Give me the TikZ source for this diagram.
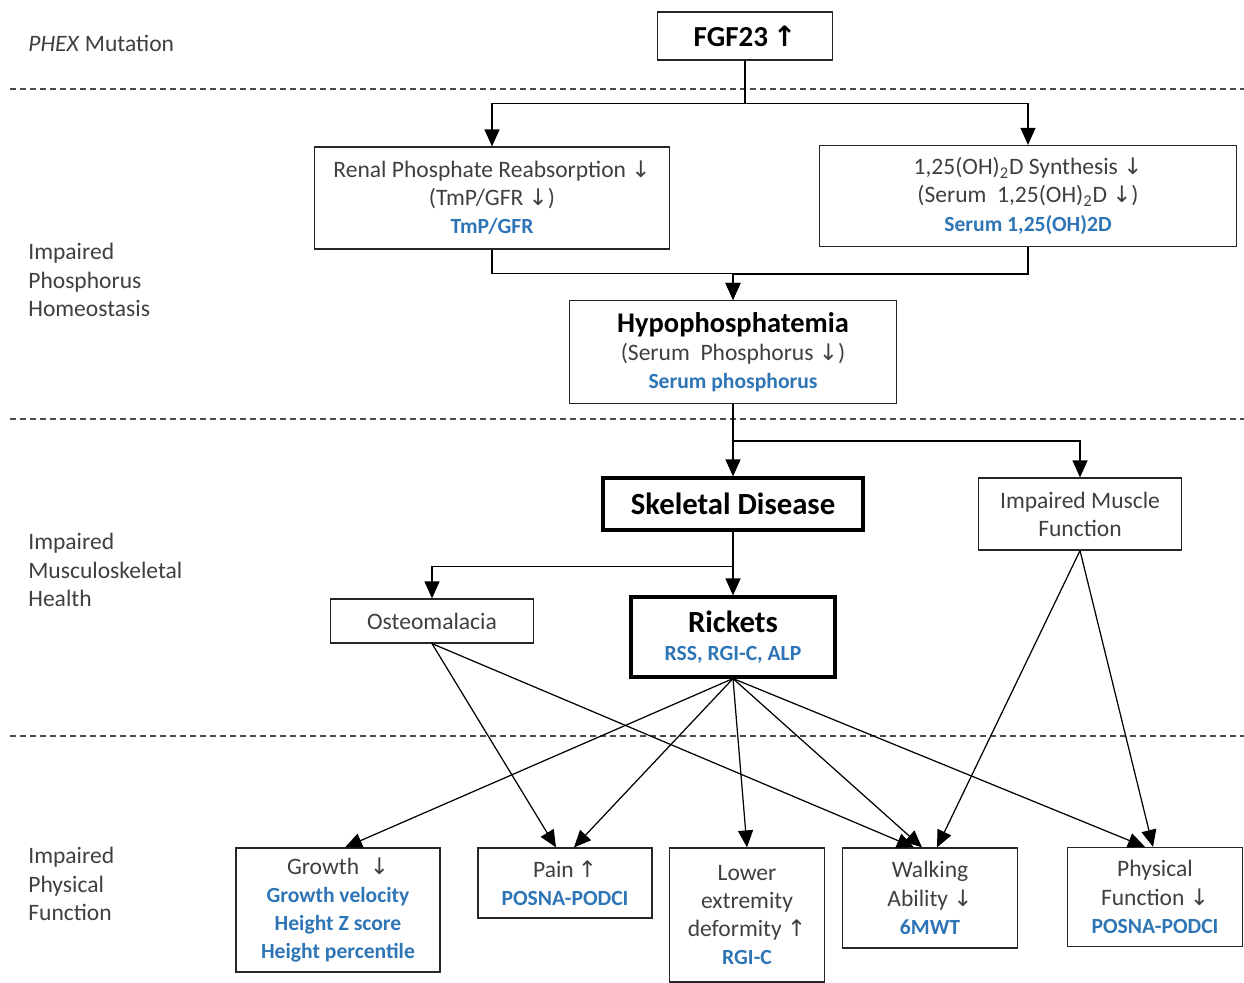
\documentclass[tikz,border=0pt]{standalone}
\usepackage{fontspec}
\setmainfont{Carlito}
\newfontfamily\arrowfont{DejaVu Sans}
\usetikzlibrary{arrows.meta,calc}
\definecolor{measblue}{HTML}{2E75B6}
\definecolor{txtgray}{HTML}{3F3F3F}
\newcommand{\meas}[1]{{\color{measblue}\bfseries\fontsize{12.3}{15}\selectfont #1}}
\newcommand{\ttl}[1]{{\color{black}\bfseries\fontsize{17.5}{20}\selectfont #1}}
\newcommand{\arrdn}{{\arrowfont\mdseries\fontsize{13}{15}\selectfont ↓}}
\newcommand{\arrup}{{\arrowfont\mdseries\fontsize{13}{15}\selectfont ↑}}
\begin{document}
\begin{tikzpicture}[x=0.02cm,y=-0.02cm,
        font=\fontsize{13.4}{16}\selectfont, text=txtgray,
        box/.style={draw=black!85, line width=0.7pt, inner sep=0pt, align=center},
        bigbox/.style={box, draw=black, line width=1.8pt},
        link/.style={draw=black, line width=0.7pt, -{Triangle[length=0.34cm,width=0.3cm]}},
        sep/.style={draw=black!70, line width=0.7pt, dash pattern=on 0.12cm off 0.08cm},
        lbl/.style={anchor=west, align=left, inner sep=0pt}]
        \useasboundingbox (0,0) rectangle (1244,983);

        % level separators
        \draw [sep] (10,89) -- (1244,89);
        \draw [sep] (10,419) -- (1244,419);
        \draw [sep] (10,736) -- (1244,736);

        % left column
        \node [lbl] (phex) at (28,43) {\textit{PHEX} Mutation};
        \node [lbl] (phos) at (28,280) {Impaired\\ Phosphorus\\ Homeostasis};
        \node [lbl] (musc) at (28,570) {Impaired\\ Musculoskeletal\\ Health};
        \node [lbl] (func) at (28,884) {Impaired\\ Physical\\ Function};

        % boxes
        \node [box, minimum width=3.5cm, minimum height=0.96cm] (fgf) at (745,36)
            {\color{black}\bfseries\fontsize{16.5}{20}\selectfont FGF23\,{\arrowfont\fontsize{16}{18}\selectfont ↑}};
        \node [box, minimum width=7.1cm, minimum height=2.04cm] (renal) at (492,198)
            {Renal Phosphate Reabsorption \arrdn\\ (TmP/GFR \arrdn)\\ \meas{TmP/GFR}};
        \node [box, minimum width=8.34cm, minimum height=2.02cm] (vitd) at (1028,196)
            {1,25(OH)\textsubscript{2}D Synthesis \arrdn\\ (Serum\ \ 1,25(OH)\textsubscript{2}D \arrdn)\\ \meas{Serum 1,25(OH)2D}};
        \node [box, minimum width=6.54cm, minimum height=2.06cm] (hypo) at (733,352)
            {{\color{black}\bfseries\fontsize{16.2}{20}\selectfont Hypophosphatemia}\\ (Serum\ \ Phosphorus \arrdn)\\ \meas{Serum phosphorus}};
        \node [bigbox, minimum width=5.2cm, minimum height=1.04cm] (skel) at (733,504)
            {\ttl{Skeletal Disease}};
        \node [box, minimum width=4.06cm, minimum height=1.44cm] (muscle) at (1080,514)
            {Impaired Muscle\\ Function};
        \node [box, minimum width=4.06cm, minimum height=0.88cm] (osteo) at (432,621)
            {Osteomalacia};
        \node [bigbox, minimum width=4.08cm, minimum height=1.6cm] (rickets) at (733,637)
            {\ttl{Rickets}\\ \meas{RSS, RGI-C, ALP}};
        \node [box, minimum width=4.08cm, minimum height=2.48cm] (growth) at (338,910)
            {Growth\ \ \arrdn\\ \meas{Growth velocity}\\ \meas{Height Z score}\\ \meas{Height percentile}};
        \node [box, minimum width=3.48cm, minimum height=1.4cm] (pain) at (565,883)
            {Pain\,\arrup\\ \meas{POSNA-PODCI}};
        \node [box, minimum width=3.1cm, minimum height=2.68cm] (lower) at (747,915)
            {Lower\\ extremity\\ deformity \arrup\\ \meas{RGI-C}};
        \node [box, minimum width=3.5cm, minimum height=2cm] (walk) at (930,898)
            {Walking\\ Ability \arrdn\\ \meas{6MWT}};
        \node [box, minimum width=3.5cm, minimum height=1.98cm] (phys) at (1155,897)
            {Physical\\ Function \arrdn\\ \meas{POSNA-PODCI}};

        % elbow connectors
        \draw [link] (fgf.south) -- ++(0,43) -| (renal.north);
        \draw [link] (fgf.south) -- ++(0,43) -| (vitd.north);
        \draw [link] (renal.south) -- ++(0,24) -| (hypo.north);
        \draw [link] (vitd.south) -- ++(0,27) -| (hypo.north);
        \draw [link] (hypo.south) -- ++(0,37) -| (skel.north);
        \draw [link] (hypo.south) -- ++(0,37) -| (muscle.north);
        \draw [link] (skel.south) -- ++(0,35) -| (osteo.north);
        \draw [link] (skel.south) -- ++(0,35) -| (rickets.north);

        % diagonal connectors
        \draw [link] (osteo.south) -- ($(pain.north)+(-9,0)$);
        \draw [link] (osteo.south) -- ($(walk.north)+(-16,0)$);
        \draw [link] (rickets.south) -- ($(growth.north)+(7,0)$);
        \draw [link] (rickets.south) -- ($(pain.north)+(9,0)$);
        \draw [link] (rickets.south) -- (lower.north);
        \draw [link] (rickets.south) -- ($(walk.north)+(-8,0)$);
        \draw [link] (rickets.south) -- ($(phys.north)+(-10,0)$);
        \draw [link] (muscle.south) -- ($(walk.north)+(7,0)$);
        \draw [link] (muscle.south) -- ($(phys.north)+(-2,0)$);
\end{tikzpicture}
\end{document}
